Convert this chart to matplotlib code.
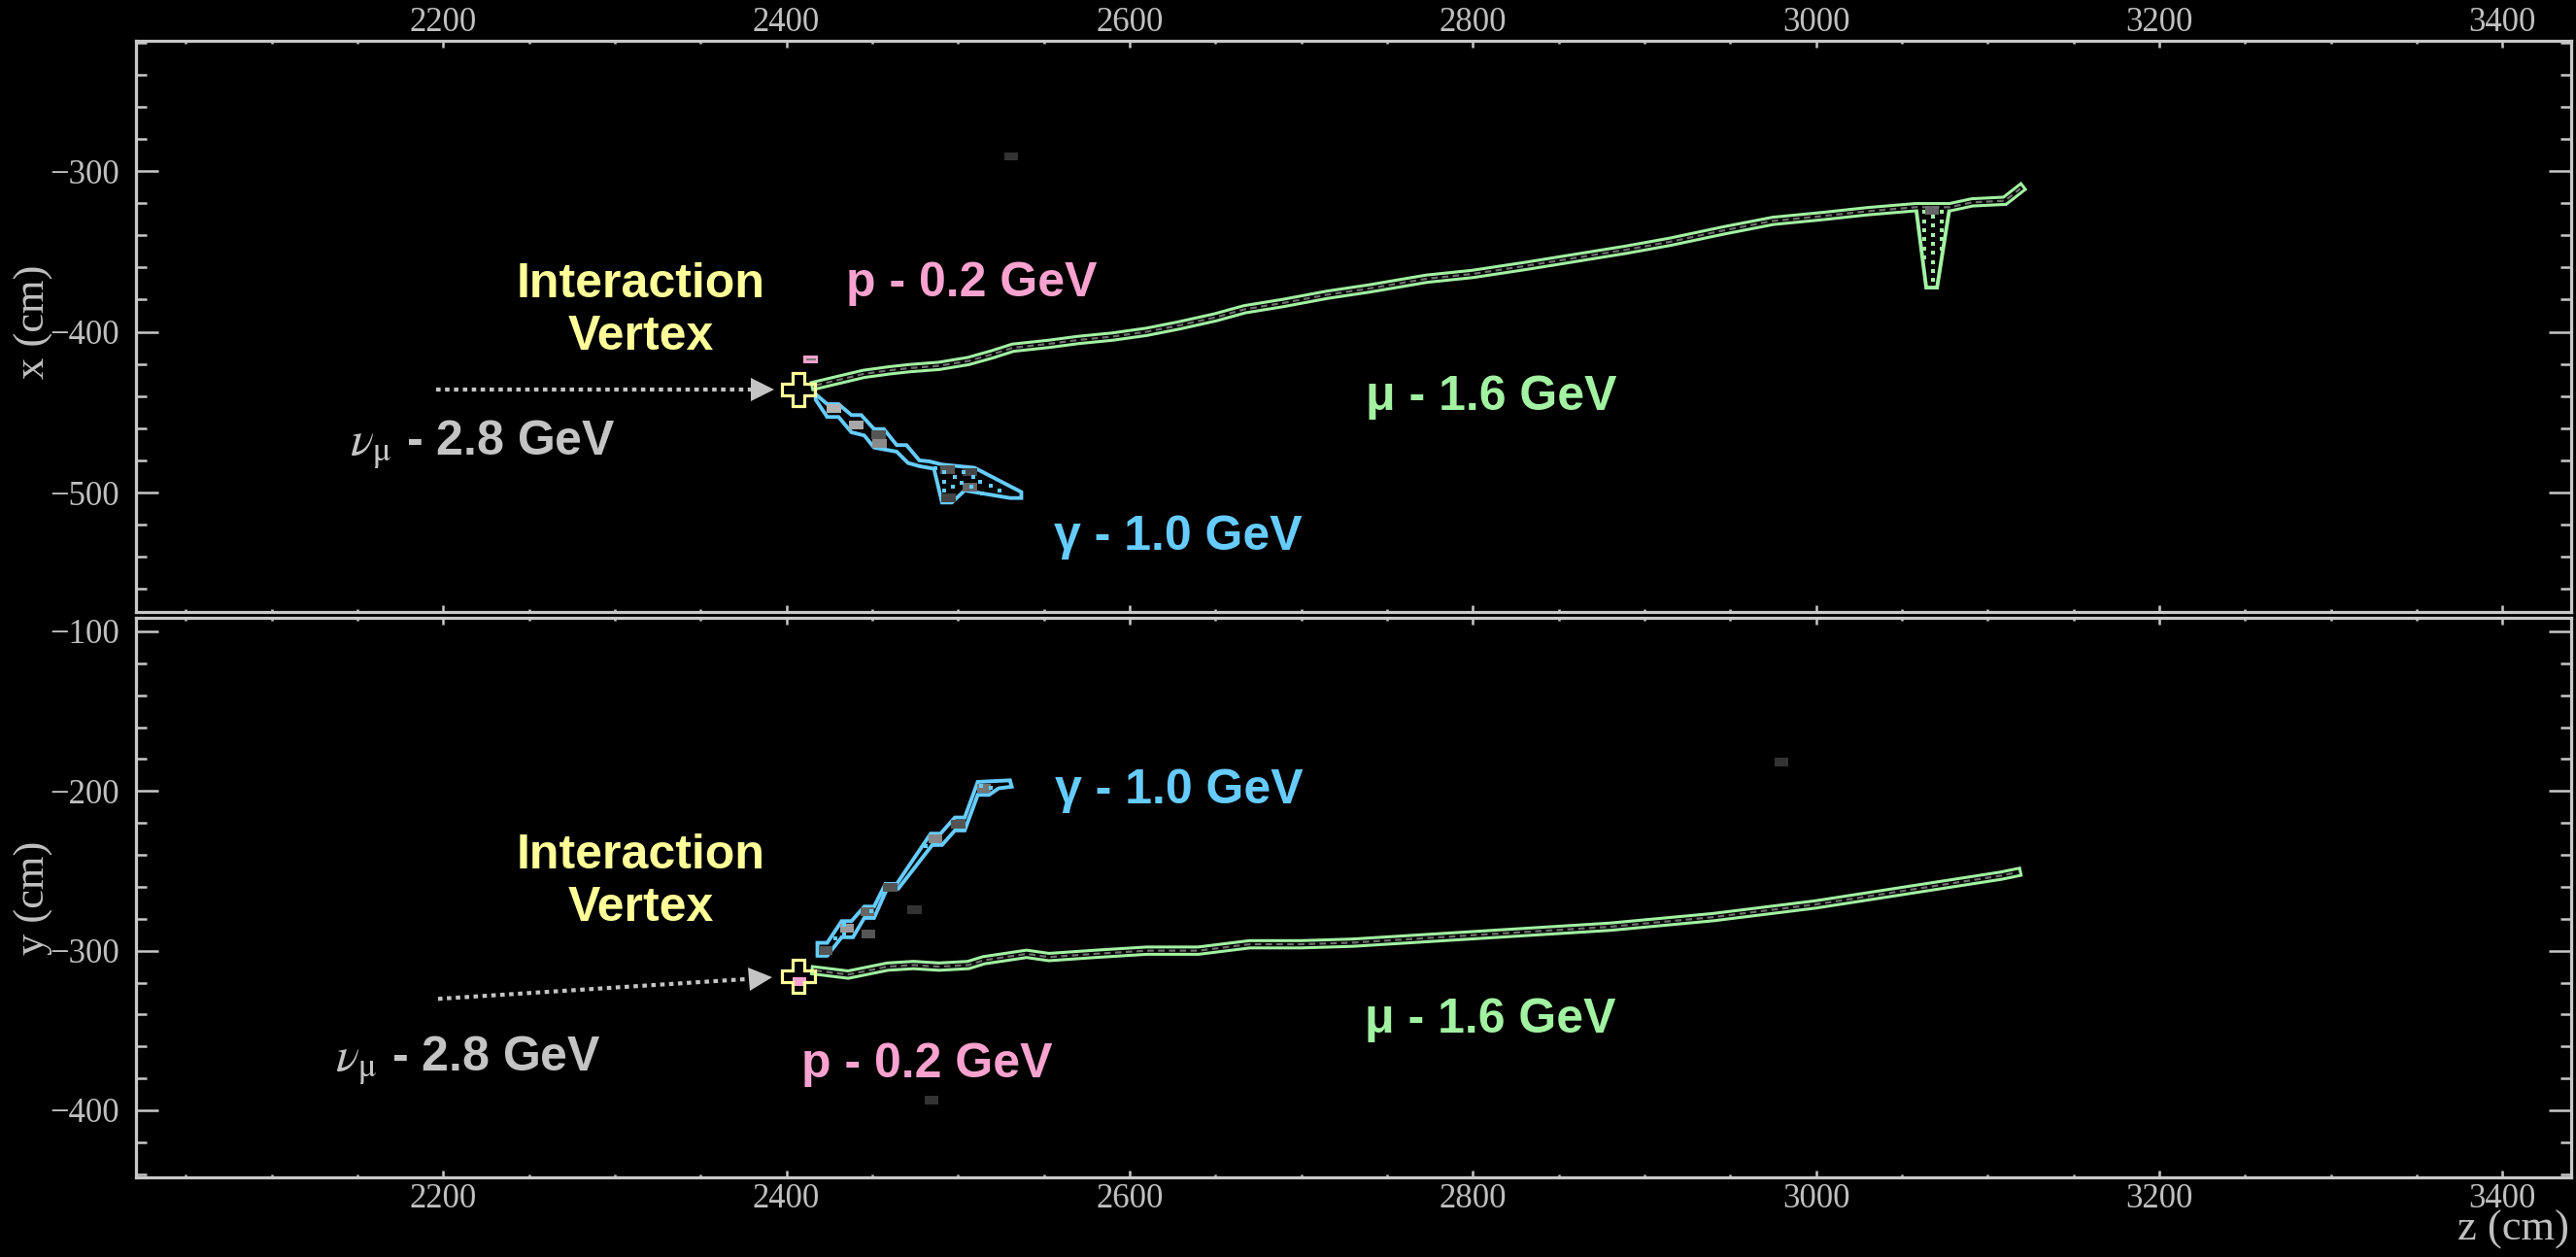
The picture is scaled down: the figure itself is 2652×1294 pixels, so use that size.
#!/usr/bin/env python3
"""Event display of a nu_mu CC interaction: top (x-z) and side (y-z) views."""

import matplotlib

matplotlib.use("Agg")
import matplotlib.pyplot as plt
from matplotlib.markers import MarkerStyle
from matplotlib.patches import Polygon, Rectangle
from matplotlib.ticker import MultipleLocator
from matplotlib.transforms import Affine2D

# ---- values (cm) ----
vertex_z = 2406.8
vertex_x = -435.9
vertex_y = -316.0

# top view: x vs z
mu_top_z = [2417, 2430, 2445, 2460, 2472, 2489, 2506, 2520, 2532, 2553, 2570,
            2590, 2610, 2629, 2650, 2667, 2690, 2715, 2740, 2773, 2800, 2831,
            2860, 2889, 2915, 2946, 2975, 3004, 3030, 3058, 3078, 3091, 3110,
            3119]
mu_top_x = [-433.3, -430.0, -426.2, -424.0, -422.6, -421.2, -418.2, -414.0,
            -409.9, -407.5, -405.1, -403.0, -400.0, -396.0, -391.0, -386.0,
            -382.0, -377.0, -373.0, -367.0, -364.0, -359.0, -354.0, -349.0,
            -344.0, -337.0, -331.0, -328.0, -325.0, -322.5, -322.5, -319.5,
            -318.5, -311.0]

mu_top_kink_z = [3058.2, 3064.2, 3070.5, 3077.9]
mu_top_kink_x = [-322.5, -372.5, -372.5, -322.5]
mu_kink_dot_z = [3062.8] * 6 + [3068.0] * 8 + [3073.5] * 5
mu_kink_dot_x = [-325.5, -331.2, -336.6, -342.3, -348.1, -353.7,
                 -328.2, -333.8, -339.6, -345.1, -350.7, -356.8, -362.2, -367.8,
                 -325.5, -331.2, -336.6, -342.3, -348.1]

gam_top_z = [2417.1, 2423.8, 2430.4, 2437.9, 2443.6, 2451.1, 2456.8, 2464.3,
             2470.0, 2477.5, 2483.2, 2490.7, 2509.6, 2536.9, 2536.9, 2530.3,
             2503.9, 2496.4, 2490.7, 2486.0, 2477.5, 2470.9, 2464.3, 2451.1,
             2445.4, 2437.9, 2430.4, 2423.8, 2417.1]
gam_top_x = [-438.9, -445.0, -445.0, -451.8, -451.8, -460.5, -460.5, -470.5,
             -470.5, -480.0, -480.6, -482.6, -484.6, -499.7, -503.4, -503.4,
             -498.7, -506.2, -506.2, -485.2, -483.6, -481.6, -474.6, -472.0,
             -464.5, -462.5, -453.0, -453.0, -442.3]
gam_top_hit_z = [2427.5, 2440.7, 2453.9, 2454.5, 2494.1, 2506.7, 2507.1, 2494.5]
gam_top_hit_x = [-447.8, -457.9, -463.9, -469.5, -486.0, -487.3, -496.7, -503.2]
gam_top_hit_c = ["#b4b4b4", "#a8a8a8", "#555555", "#8a8a8a", "#555555",
                 "#444444", "#666666", "#444444"]
gam_top_dot_z = [2487, 2492, 2498, 2503, 2509, 2513, 2519, 2524, 2492, 2497,
                 2502, 2508, 2492, 2514]
gam_top_dot_x = [-484.6, -487.3, -490.1, -487.3, -490.5, -493.1, -495.7, -498.5,
                 -493.1, -496.1, -493.7, -496.1, -498.7, -500.3]

p_top_z = [2414.3]
p_top_x = [-417.2]

# side view: y vs z
mu_side_z = [2417, 2436, 2459, 2474, 2489, 2506, 2515, 2540, 2553, 2580, 2610,
             2640, 2670, 2700, 2730, 2760, 2790, 2820, 2850, 2880, 2910, 2940,
             2970, 3000, 3030, 3060, 3090, 3108, 3117]
mu_side_y = [-312.5, -315.0, -310.0, -309.0, -310.0, -309.0, -306.0, -302.0,
             -304.0, -302.0, -300.0, -300.0, -296.0, -296.0, -295.0, -293.0,
             -291.0, -289.0, -287.0, -285.0, -282.0, -279.0, -275.0, -271.0,
             -266.0, -261.0, -256.0, -253.0, -251.0]

gam_side_z = [2418.1, 2423.8, 2432.2, 2437.9, 2445.4, 2451.1, 2457.7, 2464.3,
              2484.1, 2489.8, 2498.2, 2503.9, 2511.5, 2530.3, 2531.3, 2523.7,
              2518.1, 2511.5, 2503.9, 2498.2, 2490.7, 2485.0, 2465.2, 2458.6,
              2451.1, 2445.4, 2438.8, 2432.2, 2423.8, 2418.1]
gam_side_y = [-295.1, -295.1, -281.5, -281.5, -272.4, -272.4, -258.2, -258.2,
              -226.7, -226.7, -216.6, -216.6, -194.3, -193.3, -197.3, -198.3,
              -202.4, -202.4, -224.7, -224.7, -233.8, -233.8, -261.2, -261.2,
              -279.5, -279.5, -291.6, -291.6, -303.2, -303.2]
gam_side_hit_z = [2422.8, 2435.1, 2447.3, 2460.5, 2486.9, 2500.1, 2515.2]
gam_side_hit_y = [-299.7, -286.1, -275.4, -260.2, -229.8, -220.6, -198.3]
gam_side_hit_c = ["#555555", "#9a9a9a", "#666666", "#555555", "#888888",
                  "#555555", "#777777"]
gam_side_dot_z = [2428.5, 2433.8, 2433.8, 2449.2, 2481.3, 2513.3, 2519.0]
gam_side_dot_y = [-292.2, -283.5, -289.6, -275.0, -234.8, -196.9, -197.7]

p_side_z = [2407.7]
p_side_y = [-319.4]

# isolated dim hits
noise_top_z = [2530.8]
noise_top_x = [-290.7]
noise_side_z = [2447.9, 2474.7, 2484.7, 2980.0]
noise_side_y = [-289.6, -274.4, -393.8, -181.9]
noise_side_c = ["#555555", "#333333", "#333333", "#333333"]

# incoming neutrino
nu_top_z = [2196, 2381]
nu_top_x = [-435.9, -435.9]
nu_side_z = [2197, 2380]
nu_side_y = [-330.2, -317.6]

MU_GREEN = "#a2f2a2"
GAM_BLUE = "#66ccff"
P_PINK = "#f9a2cf"
VTX_YELLOW = "#ffff99"
NU_GRAY = "#c4c4c4"
AXIS_GRAY = "#c8c8c8"
LABEL_GRAY = "#c0c0c0"

SANS = ["Liberation Sans", "DejaVu Sans"]


def _style_axes(ax, labels_on_top):
    ax.set_facecolor("black")
    for spine in ax.spines.values():
        spine.set_color(AXIS_GRAY)
        spine.set_linewidth(2.3)
    ax.xaxis.set_major_locator(MultipleLocator(200))
    ax.xaxis.set_minor_locator(MultipleLocator(50))
    ax.yaxis.set_major_locator(MultipleLocator(100))
    ax.yaxis.set_minor_locator(MultipleLocator(20))
    ax.tick_params(which="both", direction="in", top=True, bottom=True,
                   left=True, right=True, colors=AXIS_GRAY,
                   labelcolor=LABEL_GRAY, labelsize=25, width=1.8)
    ax.tick_params(axis="x", which="major", length=5)
    ax.tick_params(axis="x", which="minor", length=2.4)
    ax.tick_params(axis="y", which="major", length=16.5, pad=12)
    ax.tick_params(axis="y", which="minor", length=8)
    if labels_on_top:
        ax.tick_params(axis="x", labeltop=True, labelbottom=False, pad=1.5)
    else:
        ax.tick_params(axis="x", pad=4.5)


def _band(ax, z, v, color):
    ax.plot(z, v, color=color, lw=7.6, solid_capstyle="projecting",
            solid_joinstyle="miter", zorder=3)
    ax.plot(z, v, color="black", lw=3.2, solid_capstyle="projecting",
            solid_joinstyle="miter", zorder=4)
    ax.plot(z, v, color="#707070", lw=1.6, ls=(0, (3, 2)), zorder=5)


def _hull(ax, z, v, color):
    ax.add_patch(Polygon(list(zip(z, v)), closed=True, fc="black", ec=color,
                         lw=2.8, joinstyle="miter", zorder=3))


def _hits(ax, z, v, colors, w, h, zorder=4):
    for zi, vi, c in zip(z, v, colors):
        ax.add_patch(Rectangle((zi - w / 2, vi - h / 2), w, h, color=c,
                               lw=0, zorder=zorder))


def _label(ax, z, v, text, color, **kw):
    ax.text(z, v, text, color=color, fontsize=36, fontweight="bold",
            family=SANS, ha="center", va="center", zorder=8, **kw)


def _neutrino(ax, z, v, angle):
    ax.plot(z, v, color=NU_GRAY, lw=3, ls=(0, (1.1, 1.1)),
            dash_capstyle="butt", zorder=2)
    head = MarkerStyle(">", transform=Affine2D().rotate_deg(angle))
    step = 5.0
    ax.plot([z[-1] + step], [v[-1] + (v[-1] - v[0]) * step / (z[-1] - z[0])],
            marker=head, ms=17, color=NU_GRAY, mew=0, zorder=2)


def _vertex(ax, z, v):
    ax.plot([z], [v], marker="P", ms=25, mfc="none", mec=VTX_YELLOW, mew=2.3,
            zorder=7)


def main():
    plt.rcParams["font.family"] = ["Liberation Serif", "DejaVu Serif"]
    plt.rcParams["mathtext.fontset"] = "stix"

    fig = plt.figure(figsize=(26.52, 12.94), dpi=100, facecolor="black")
    ax_top = fig.add_axes([0.05279, 0.51314, 0.94532, 0.45440])
    ax_side = fig.add_axes([0.05279, 0.06337, 0.94532, 0.44513])

    nu_text = r"$\nu_{\mathrm{\mu}}$ - 2.8 GeV"

    # ---- top view ----
    _style_axes(ax_top, labels_on_top=True)
    ax_top.set_xlim(2021, 3440)
    ax_top.set_ylim(-574.3, -219)
    _band(ax_top, mu_top_z, mu_top_x, MU_GREEN)
    _hull(ax_top, mu_top_kink_z, mu_top_kink_x, MU_GREEN)
    ax_top.plot(mu_kink_dot_z, mu_kink_dot_x, ls="none", marker="s", ms=2.2,
                color=MU_GREEN, mew=0, zorder=4)
    _hits(ax_top, [3067.7], [-324.5], ["#666666"], 8, 5)
    _hull(ax_top, gam_top_z, gam_top_x, GAM_BLUE)
    _hits(ax_top, gam_top_hit_z, gam_top_hit_x, gam_top_hit_c, 8.5, 5.4)
    ax_top.plot(gam_top_dot_z, gam_top_dot_x, ls="none", marker="s", ms=2.2,
                color=GAM_BLUE, mew=0, zorder=5)
    for z, x in zip(p_top_z, p_top_x):
        ax_top.add_patch(Rectangle((z - 4.2, x - 2.7), 8.4, 5.4, fc=P_PINK,
                                   lw=0, zorder=5))
        ax_top.plot([z - 2.2, z + 2.2], [x, x], color="#777777", lw=1.5,
                    zorder=6)
    _hits(ax_top, noise_top_z, noise_top_x, ["#333333"], 8, 5)
    _neutrino(ax_top, nu_top_z, nu_top_x, 0)
    _vertex(ax_top, vertex_z, vertex_x)

    _label(ax_top, 2315, -387, "Interaction\nVertex", VTX_YELLOW,
           linespacing=1.22)
    _label(ax_top, 2508, -370, "p - 0.2 GeV", P_PINK)
    _label(ax_top, 2811, -441, "\u03bc - 1.6 GeV", MU_GREEN)
    _label(ax_top, 2628, -528, "\u03b3 - 1.0 GeV", GAM_BLUE)
    _label(ax_top, 2223, -470, nu_text, NU_GRAY)

    ax_top.set_ylabel("x (cm)", fontsize=32, color=LABEL_GRAY)
    ax_top.yaxis.set_label_coords(-0.034, 0.508)

    # ---- side view ----
    _style_axes(ax_side, labels_on_top=False)
    ax_side.set_xlim(2021, 3440)
    ax_side.set_ylim(-442, -91.5)
    _band(ax_side, mu_side_z, mu_side_y, MU_GREEN)
    _hull(ax_side, gam_side_z, gam_side_y, GAM_BLUE)
    _hits(ax_side, gam_side_hit_z, gam_side_hit_y, gam_side_hit_c, 8, 5.5)
    ax_side.plot(gam_side_dot_z, gam_side_dot_y, ls="none", marker="s", ms=2.2,
                 color=GAM_BLUE, mew=0, zorder=5)
    _hits(ax_side, noise_side_z, noise_side_y, noise_side_c, 8, 5.5, zorder=2)
    for z, y in zip(p_side_z, p_side_y):
        ax_side.add_patch(Rectangle((z - 4, y - 2.7), 8, 5.4, fc=P_PINK,
                                    lw=0, zorder=6))
    _neutrino(ax_side, nu_side_z, nu_side_y, 3.7)
    _vertex(ax_side, vertex_z, vertex_y)

    _label(ax_side, 2315, -257, "Interaction\nVertex", VTX_YELLOW,
           linespacing=1.22)
    _label(ax_side, 2629, -200, "\u03b3 - 1.0 GeV", GAM_BLUE)
    _label(ax_side, 2810, -343.5, "\u03bc - 1.6 GeV", MU_GREEN)
    _label(ax_side, 2482, -371.5, "p - 0.2 GeV", P_PINK)
    _label(ax_side, 2214.5, -369, nu_text, NU_GRAY)

    ax_side.set_ylabel("y (cm)", fontsize=32, color=LABEL_GRAY)
    ax_side.yaxis.set_label_coords(-0.034, 0.5)
    ax_side.set_xlabel("z (cm)", fontsize=32, color=LABEL_GRAY, ha="right")
    ax_side.xaxis.set_label_coords(0.9992, -0.059)

    fig.savefig("out.png", dpi=100, facecolor="black")
    plt.close(fig)
    return 0


if __name__ == "__main__":
    raise SystemExit(main())
